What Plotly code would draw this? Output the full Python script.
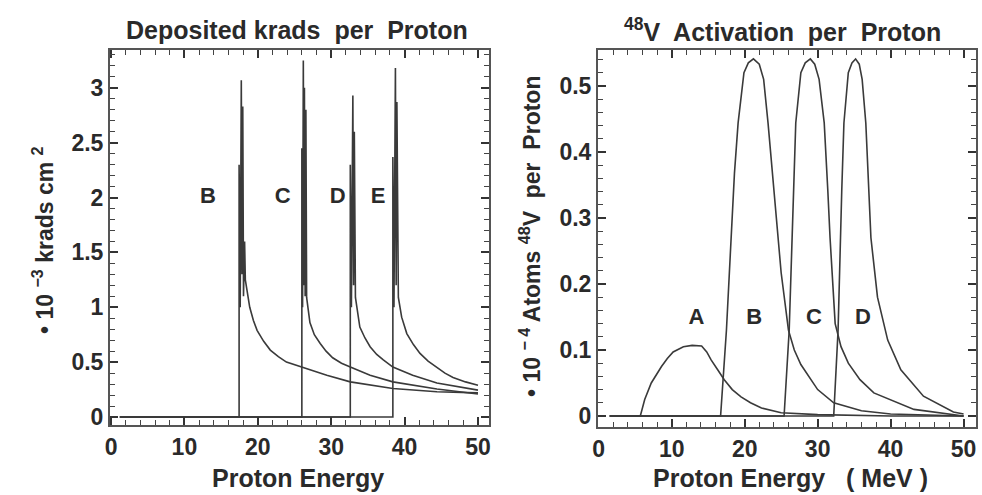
import plotly.graph_objects as go

# ---------------- Left panel: deposited krads per proton ----------------
dose_B_E = [1.2, 17.45, 17.45, 17.6, 17.75, 17.85, 17.95, 18.05, 18.2, 18.3, 18.9, 19.4, 19.9, 20.8, 21.7, 22.8, 23.9, 26.0, 29.4, 32.6, 35.5, 38.4, 44.4, 50.0]
dose_B_V = [0, 0, 2.3, 1.0, 3.07, 1.3, 2.83, 1.1, 1.6, 1.25, 1.0, 0.88, 0.79, 0.69, 0.61, 0.55, 0.50, 0.455, 0.38, 0.32, 0.29, 0.26, 0.23, 0.22]

dose_C_E = [1.2, 26.0, 26.0, 26.1, 26.2, 26.3, 26.35, 26.45, 26.55, 26.65, 27.1, 27.7, 28.5, 29.3, 30.2, 31.4, 32.6, 35.3, 38.4, 44.4, 50.0]
dose_C_V = [0, 0, 2.45, 1.0, 3.25, 1.2, 3.0, 1.1, 2.8, 1.09, 0.86, 0.75, 0.67, 0.60, 0.54, 0.49, 0.455, 0.38, 0.32, 0.255, 0.21]

dose_D_E = [1.2, 32.6, 32.6, 32.75, 32.95, 33.05, 33.15, 33.3, 33.9, 34.6, 35.3, 36.2, 37.1, 38.4, 41.1, 44.4, 50.0]
dose_D_V = [0, 0, 2.3, 1.0, 2.93, 1.2, 2.6, 1.09, 0.82, 0.72, 0.64, 0.57, 0.52, 0.455, 0.38, 0.31, 0.245]

dose_E_E = [1.2, 38.4, 38.4, 38.55, 38.75, 38.85, 38.95, 39.05, 39.15, 39.6, 40.3, 41.2, 42.1, 43.2, 44.4, 45.5, 46.6, 48.3, 50.0]
dose_E_V = [0, 0, 2.37, 1.0, 3.18, 1.2, 2.87, 1.1, 1.09, 0.91, 0.76, 0.66, 0.58, 0.51, 0.455, 0.40, 0.36, 0.32, 0.29]

dose_labels = ["B", "C", "D", "E"]
dose_label_E = [13.2, 23.4, 30.9, 36.4]
dose_label_V = [2.0, 2.0, 2.0, 2.0]

# ---------------- Right panel: 48V activation per proton ----------------
act_A_E = [1.5, 5.7, 6.3, 7.2, 8.6, 9.4, 10.2, 11.6, 12.8, 14.1, 14.8, 15.4, 16.3, 17.2, 18.3, 19.5, 20.8, 22.3, 25.0, 30.0, 40.0, 50.0]
act_A_V = [0, 0, 0.025, 0.05, 0.075, 0.087, 0.097, 0.105, 0.107, 0.106, 0.097, 0.085, 0.07, 0.055, 0.04, 0.029, 0.02, 0.012, 0.005, 0.002, 0.0, 0.0]

act_B_E = [1.5, 16.7, 17.5, 18.2, 18.6, 19.1, 19.9, 20.5, 21.2, 22.0, 22.6, 23.2, 24.0, 24.6, 25.0, 26.0, 26.8, 27.7, 30.0, 32.2, 36.0, 40.0, 50.0]
act_B_V = [0, 0, 0.13, 0.29, 0.368, 0.444, 0.52, 0.535, 0.541, 0.533, 0.51, 0.444, 0.34, 0.27, 0.217, 0.13, 0.1, 0.078, 0.04, 0.02, 0.008, 0.003, 0.0]

act_C_E = [1.5, 25.4, 26.1, 26.5, 26.7, 27.0, 27.7, 28.3, 29.0, 29.6, 30.2, 30.9, 31.4, 31.7, 32.4, 33.2, 34.2, 35.8, 37.7, 43.2, 50.0]
act_C_V = [0, 0, 0.13, 0.27, 0.37, 0.444, 0.52, 0.535, 0.541, 0.533, 0.51, 0.444, 0.34, 0.27, 0.14, 0.105, 0.08, 0.055, 0.035, 0.01, 0.0]

act_D_E = [1.5, 32.2, 32.8, 33.1, 33.3, 33.6, 34.2, 34.7, 35.2, 35.7, 36.1, 36.6, 37.0, 37.3, 38.2, 39.6, 41.4, 44.5, 48.6, 50.0]
act_D_V = [0, 0, 0.13, 0.27, 0.34, 0.444, 0.52, 0.535, 0.541, 0.533, 0.51, 0.444, 0.34, 0.27, 0.18, 0.115, 0.07, 0.03, 0.006, 0.003]

act_labels = ["A", "B", "C", "D"]
act_label_E = [13.4, 21.3, 29.5, 36.2]
act_label_V = [0.148, 0.148, 0.148, 0.148]

LINE = "#3a3a3a"
TXT = "#2a2a2a"
FRAME = "#555555"
FONT = "Liberation Sans"

fig = go.Figure()
for ex, vy in [(dose_B_E, dose_B_V), (dose_C_E, dose_C_V), (dose_D_E, dose_D_V), (dose_E_E, dose_E_V)]:
    fig.add_trace(go.Scatter(x=ex, y=vy, mode="lines", line=dict(color=LINE, width=1.6),
                             xaxis="x", yaxis="y", showlegend=False, hoverinfo="skip"))
for ex, vy in [(act_A_E, act_A_V), (act_B_E, act_B_V), (act_C_E, act_C_V), (act_D_E, act_D_V)]:
    fig.add_trace(go.Scatter(x=ex, y=vy, mode="lines", line=dict(color=LINE, width=1.6),
                             xaxis="x2", yaxis="y2", showlegend=False, hoverinfo="skip"))

fig.add_trace(go.Scatter(x=dose_label_E, y=dose_label_V, text=dose_labels, mode="text",
                         textfont=dict(family=FONT, size=22, color=TXT, weight="bold"),
                         xaxis="x", yaxis="y", showlegend=False, hoverinfo="skip"))
fig.add_trace(go.Scatter(x=act_label_E, y=act_label_V, text=act_labels, mode="text",
                         textfont=dict(family=FONT, size=22, color=TXT, weight="bold"),
                         xaxis="x2", yaxis="y2", showlegend=False, hoverinfo="skip"))

W, H = 982, 495
def px_x(p):
    return p / W
def px_y(p):
    return 1 - p / H

def axis(**kw):
    d = dict(
        showline=True, mirror="ticks", linecolor=FRAME, linewidth=2,
        ticks="inside", ticklen=8, tickwidth=2, tickcolor="#333333",
        showgrid=False, zeroline=False, automargin=False,
        tickfont=dict(family=FONT, size=23, color=TXT, weight="bold"),
    )
    d.update(kw)
    return d

def minor(dt):
    return dict(dtick=dt, tick0=0, ticks="inside", ticklen=5, tickcolor="#444444", tickwidth=1.2, showgrid=False)

fig.update_layout(
    width=W, height=H,
    margin=dict(l=0, r=0, t=0, b=0),
    paper_bgcolor="white", plot_bgcolor="white",
    font=dict(family=FONT, color=TXT),
    xaxis=axis(domain=[px_x(110), px_x(489)], range=[-0.14, 51.5],
               tickmode="linear", tick0=0, dtick=10, anchor="y", minor=minor(2)),
    yaxis=axis(domain=[px_y(425), px_y(50)], range=[-0.073, 3.345],
               tickmode="linear", tick0=0, dtick=0.5, anchor="x", minor=minor(0.1)),
    xaxis2=axis(domain=[px_x(598), px_x(976)], range=[-0.1, 51.7],
                tickmode="linear", tick0=0, dtick=10, anchor="y2", minor=minor(2)),
    yaxis2=axis(domain=[px_y(427), px_y(50)], range=[-0.0167, 0.5545],
                tickmode="linear", tick0=0, dtick=0.1, anchor="x2", minor=minor(0.02)),
)

ann_font = dict(family=FONT, size=25, color=TXT, weight="bold")
fig.add_annotation(text="Deposited krads  per  Proton", x=px_x(297), y=px_y(30), xref="paper", yref="paper",
                   showarrow=False, font=ann_font, xanchor="center", yanchor="middle")
fig.add_annotation(text="<sup>48</sup>V  Activation  per  Proton", x=px_x(782), y=px_y(30), xref="paper", yref="paper",
                   showarrow=False, font=ann_font, xanchor="center", yanchor="middle")
fig.add_annotation(text="Proton Energy", x=px_x(298), y=px_y(478), xref="paper", yref="paper",
                   showarrow=False, font=ann_font, xanchor="center", yanchor="middle")
fig.add_annotation(text="Proton Energy   ( MeV )", x=px_x(790), y=px_y(478), xref="paper", yref="paper",
                   showarrow=False, font=ann_font, xanchor="center", yanchor="middle")
fig.add_annotation(text="• 10 <sup>−3</sup> krads cm <sup>2</sup>", x=px_x(43), y=px_y(240), xref="paper", yref="paper",
                   showarrow=False, font=dict(family=FONT, size=23, color=TXT, weight="bold"),
                   textangle=-90, xanchor="center", yanchor="middle")
fig.add_annotation(text="• 10 <sup>− 4</sup> Atoms <sup>48</sup>V  per  Proton", x=px_x(530), y=px_y(237), xref="paper", yref="paper",
                   showarrow=False, font=dict(family=FONT, size=23, color=TXT, weight="bold"),
                   textangle=-90, xanchor="center", yanchor="middle")

fig.write_html("out.html", config={"displayModeBar": False},
               post_script="document.body.style.margin='0';document.body.style.overflow='hidden';")
